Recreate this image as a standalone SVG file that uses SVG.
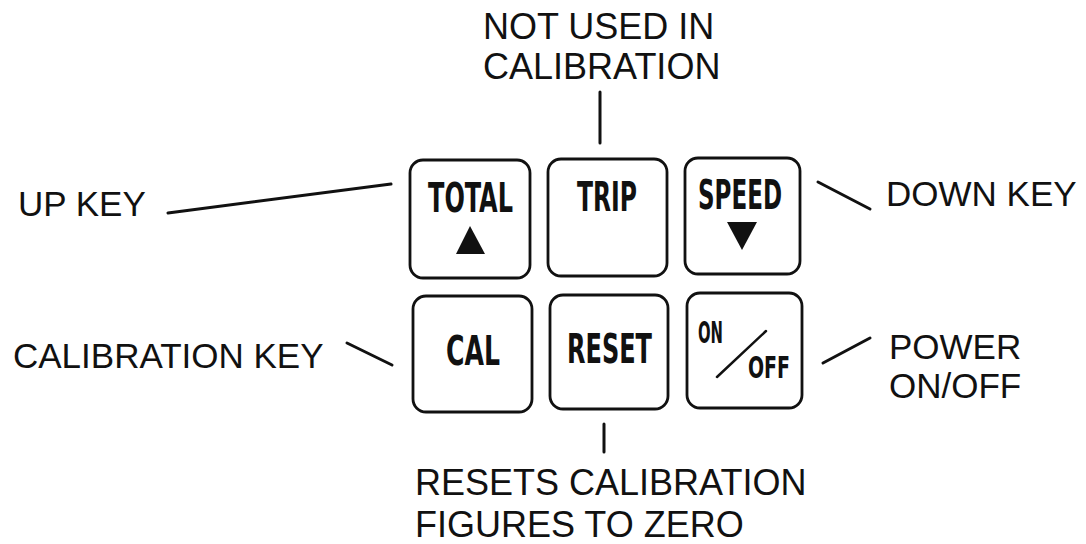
<svg xmlns="http://www.w3.org/2000/svg" width="1086" height="544" viewBox="0 0 1086 544">
  <style>
    .key { fill: #fff; stroke: #111; stroke-width: 2.8; }
    .cap { font-family: "Liberation Sans Narrow", "DejaVu Sans Condensed", "Liberation Sans", sans-serif; font-weight: bold; font-size: 40px; fill: #111; }
    .small { font-size: 31px; }
    .label { font-family: "Liberation Sans", Arial, sans-serif; font-size: 35px; fill: #111; }
    .big { font-size: 36px; }
    .lead { stroke: #111; stroke-width: 3; stroke-linecap: round; fill: none; }
  </style>
  <rect width="1086" height="544" fill="#fff"/>

  <!-- leader lines from the labels to the keys -->
  <g id="connectors">
    <line class="lead" x1="168" y1="213" x2="391" y2="184"/>
    <line class="lead" x1="818" y1="182" x2="870" y2="209"/>
    <line class="lead" x1="347" y1="343" x2="392" y2="365"/>
    <line class="lead" x1="823" y1="363" x2="870" y2="338"/>
    <line class="lead" x1="600" y1="92" x2="600" y2="143"/>
    <line class="lead" x1="604" y1="424" x2="604" y2="452"/>
  </g>

  <!-- keypad -->
  <g id="key-total">
    <rect class="key" x="410" y="160" width="120" height="118" rx="13"/>
    <text class="cap" x="470.5" y="212" text-anchor="middle" textLength="85" lengthAdjust="spacingAndGlyphs">TOTAL</text>
    <polygon points="470,226 456,254 485,254" fill="#111"/>
  </g>
  <g id="key-trip">
    <rect class="key" x="548" y="159" width="119" height="117" rx="13"/>
    <text class="cap" x="607" y="211" text-anchor="middle" textLength="60" lengthAdjust="spacingAndGlyphs">TRIP</text>
  </g>
  <g id="key-speed">
    <rect class="key" x="685" y="158" width="115" height="116" rx="13"/>
    <text class="cap" x="740" y="209" text-anchor="middle" textLength="84" lengthAdjust="spacingAndGlyphs">SPEED</text>
    <polygon points="727,222 757,222 742,250" fill="#111"/>
  </g>
  <g id="key-cal">
    <rect class="key" x="413" y="296" width="119" height="116" rx="13"/>
    <text class="cap" x="473" y="365" text-anchor="middle" textLength="54" lengthAdjust="spacingAndGlyphs">CAL</text>
  </g>
  <g id="key-reset">
    <rect class="key" x="550" y="295" width="118" height="114" rx="13"/>
    <text class="cap" x="609.5" y="363" text-anchor="middle" textLength="85" lengthAdjust="spacingAndGlyphs">RESET</text>
  </g>
  <g id="key-onoff">
    <rect class="key" x="687" y="293" width="115" height="115" rx="13"/>
    <text class="cap small" x="710.5" y="343" text-anchor="middle" textLength="25" lengthAdjust="spacingAndGlyphs">ON</text>
    <line x1="717" y1="377" x2="766" y2="331" stroke="#111" stroke-width="2.5" stroke-linecap="round"/>
    <text class="cap small" x="769" y="378" text-anchor="middle" textLength="42" lengthAdjust="spacingAndGlyphs">OFF</text>
  </g>

  <!-- labels -->
  <g id="label-up">
    <text class="label" x="18" y="216">UP KEY</text>
  </g>
  <g id="label-down">
    <text class="label" x="886" y="206">DOWN KEY</text>
  </g>
  <g id="label-cal">
    <text class="label" x="13" y="368">CALIBRATION KEY</text>
  </g>
  <g id="label-power">
    <text class="label" x="889" y="359">POWER</text>
    <text class="label" x="889" y="398">ON/OFF</text>
  </g>
  <g id="label-trip">
    <text class="label big" x="483" y="39">NOT USED IN</text>
    <text class="label big" x="483" y="79">CALIBRATION</text>
  </g>
  <g id="label-reset">
    <text class="label big" x="415" y="495">RESETS CALIBRATION</text>
    <text class="label big" x="415" y="537">FIGURES TO ZERO</text>
  </g>
</svg>
